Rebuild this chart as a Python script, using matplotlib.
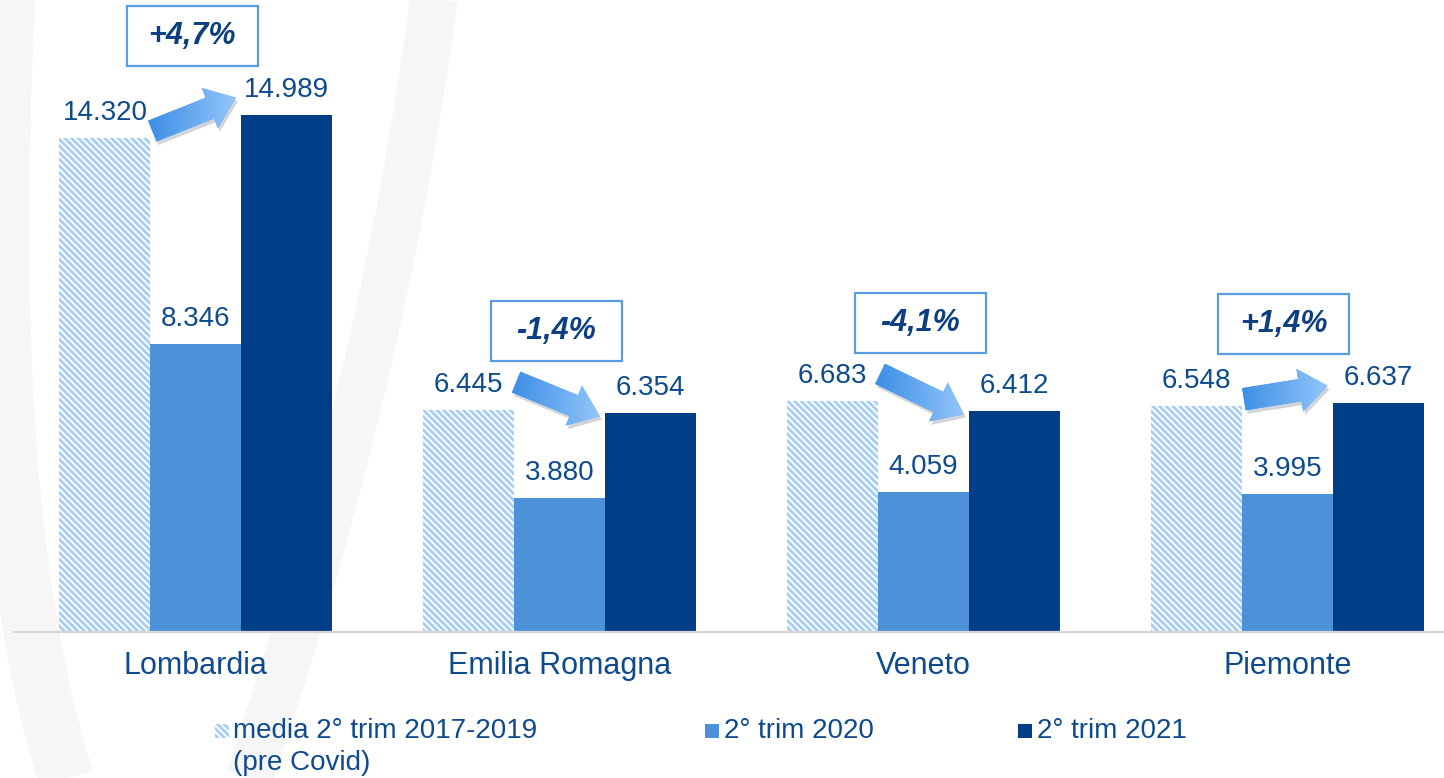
import numpy as np
import matplotlib
matplotlib.use("Agg")
import matplotlib.pyplot as plt
import matplotlib.patheffects as pe
from matplotlib.patches import Rectangle, FancyArrowPatch
from matplotlib.colors import LinearSegmentedColormap

# dati
regioni = ["Lombardia", "Emilia Romagna", "Veneto", "Piemonte"]
media_2017_2019 = [14320, 6445, 6683, 6548]
trim_2020 = [8346, 3880, 4059, 3995]
trim_2021 = [14989, 6354, 6412, 6637]
legenda = ["media 2° trim 2017-2019", "(pre Covid)", "2° trim 2020", "2° trim 2021"]

# colori
TESTO = "#0d4a8e"
STRISCE = "#a6cdf5"
AZZURRO = "#4d91d9"
BLU = "#003f87"
BORDO_BOX = "#5b9be0"
FILIGRANA = "#f6f6f6"

plt.rcParams["font.family"] = ["Liberation Sans", "DejaVu Sans"]
plt.rcParams["hatch.linewidth"] = 2.0

W, H = 1444, 778
fig = plt.figure(figsize=(W / 100, H / 100), dpi=100)

# filigrana di sfondo (curve grigio chiaro)
def curva(p0, p1, p2, lw):
    t = np.linspace(0, 1, 100)[:, None]
    pts = (1 - t) ** 2 * np.array(p0) + 2 * (1 - t) * t * np.array(p1) + t ** 2 * np.array(p2)
    fig.add_artist(plt.Line2D(pts[:, 0] / W, 1 - pts[:, 1] / H, lw=lw, color=FILIGRANA,
                              solid_capstyle="butt", transform=fig.transFigure, zorder=0))


curva((435, -10), (385, 380), (245, 790), 34)
curva((8, -10), (-20, 520), (70, 790), 40)

ax = fig.add_axes([14 / W, (H - 632) / H, (W - 14) / W, 632 / H])
ax.patch.set_alpha(0)

x = np.arange(len(regioni))
bw = 0.25

ax.bar(x - bw, media_2017_2019, bw, facecolor="white", edgecolor=STRISCE,
       hatch="\\" * 5, linewidth=0, zorder=2)
ax.bar(x, trim_2020, bw, color=AZZURRO, zorder=2)
ax.bar(x + bw, trim_2021, bw, color=BLU, zorder=2)


def fmt(v):
    return f"{v:,}".replace(",", ".")


for serie, dx in [(media_2017_2019, -bw), (trim_2020, 0), (trim_2021, bw)]:
    for i, v in enumerate(serie):
        ax.annotate(fmt(v), (x[i] + dx, v), xytext=(0, 18), textcoords="offset points",
                    ha="center", va="center", fontsize=20, color=TESTO, zorder=6)

# frecce con sfumatura
cmap_freccia = LinearSegmentedColormap.from_list("freccia", ["#3689e4", "#96c9fb"])


def freccia(p0, p1):
    arr = FancyArrowPatch(p0, p1, arrowstyle="simple,head_length=0.75,head_width=1.15,tail_width=0.6",
                          mutation_scale=27, shrinkA=0, shrinkB=0, fc="#5aa3ef", ec="none",
                          zorder=4, path_effects=[pe.SimplePatchShadow(offset=(1.5, -2.5), alpha=0.2),
                                                  pe.Normal()])
    ax.add_patch(arr)
    grad = np.linspace(0, 1, 256).reshape(1, -1)
    y0, y1 = min(p0[1], p1[1]) - 1500, max(p0[1], p1[1]) + 1500
    im = ax.imshow(grad, extent=(p0[0] - 0.03, p1[0] + 0.01, y0, y1), cmap=cmap_freccia,
                   aspect="auto", interpolation="bilinear", zorder=5)
    im.set_clip_path(arr)


for i in range(len(regioni)):
    v0, v2 = media_2017_2019[i], trim_2021[i]
    s = 1 if v2 >= v0 else -1
    freccia((x[i] - 0.12, v0 + 500 - s * 300), (x[i] + 0.11, v2 + 200 + s * 300))

    # box variazione %
    var = (v2 / v0 - 1) * 100
    testo = f"{var:+.1f}%".replace(".", ",")
    yc = max(v0, v2) + 2280
    ax.add_patch(Rectangle((x[i] - 0.01 - 0.18, yc - 870), 0.36, 1740, facecolor="white",
                           edgecolor=BORDO_BOX, linewidth=1.6, zorder=6))
    ax.text(x[i] - 0.01, yc, testo, ha="center", va="center", fontsize=22,
            fontweight="bold", fontstyle="italic", color="#0b3f82", zorder=7)

ax.set_xlim(-0.5, 3.43)
ax.set_ylim(0, 18320)
ax.set_xticks(x)
ax.set_xticklabels(regioni, fontsize=22, color=TESTO)
ax.tick_params(axis="x", length=0, pad=14)
ax.set_yticks([])
for lato in ["top", "left", "right"]:
    ax.spines[lato].set_visible(False)
ax.spines["bottom"].set_color("#d6d6d6")
ax.spines["bottom"].set_linewidth(1.6)

# legenda
def voce(px, py, **kw):
    fig.add_artist(Rectangle((px / W, 1 - (py + 7) / H), 14 / W, 14 / H,
                             transform=fig.transFigure, **kw))


voce(215, 731, facecolor="white", edgecolor=STRISCE, hatch="\\" * 5, linewidth=0)
fig.text(233 / W, 1 - 731 / H, legenda[0], fontsize=20, color=TESTO, va="center")
fig.text(233 / W, 1 - 763 / H, legenda[1], fontsize=20, color=TESTO, va="center")
voce(705, 731, facecolor=AZZURRO, linewidth=0)
fig.text(724 / W, 1 - 731 / H, legenda[2], fontsize=20, color=TESTO, va="center")
voce(1018, 731, facecolor=BLU, linewidth=0)
fig.text(1037 / W, 1 - 731 / H, legenda[3], fontsize=20, color=TESTO, va="center")

fig.savefig("out.png", dpi=100)
